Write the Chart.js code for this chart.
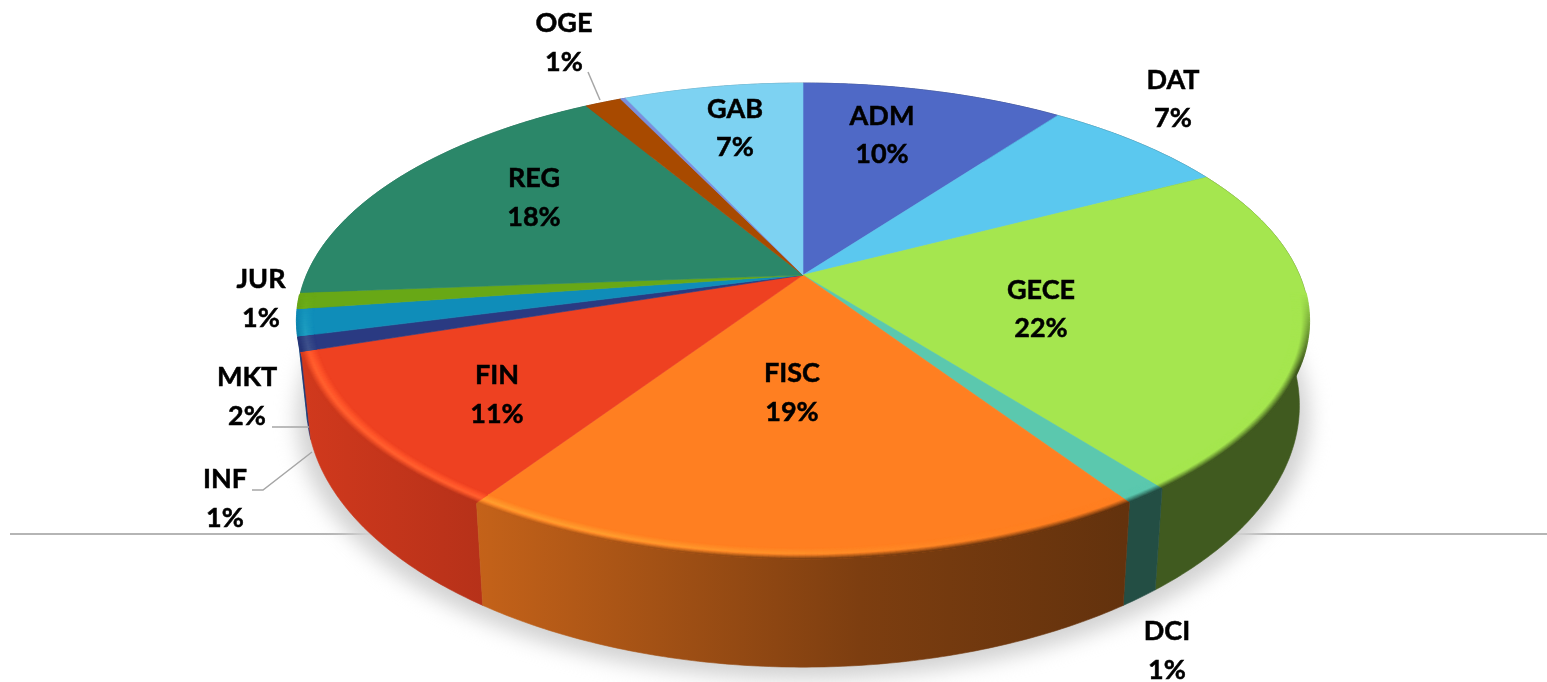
<!DOCTYPE html>
<html>
<head>
<meta charset="utf-8">
<style>
	html, body { margin: 0; padding: 0; background: #fff; overflow: hidden; }
	canvas { display: block; }
</style>
<script src="https://cdn.jsdelivr.net/npm/chart.js@4/dist/chart.umd.min.js"></script>
</head>
<body>
<canvas id="pieChart" width="1547" height="682"></canvas>
<script>
const categories = ["ADM", "DAT", "GECE", "DCI", "FISC", "FIN", "INF", "MKT", "JUR", "REG", "OGE", "", "GAB"];
const shares = [10.1, 7.2, 22.2, 1.2, 18.6, 10.6, 1.0, 1.8, 1.1, 17.7, 1.4, 0.2, 6.9];
const sliceColors = ["#4f69c6", "#5bc8ef", "#a5e64f", "#5bc8ae", "#ff7f21", "#ee4121", "#2a3a82", "#0f8db9", "#68a816", "#2b8769", "#a84a00", "#7b8fde", "#7dd2f2"];

// where each label sits, name line and percent line share an x
const labelSpots = {
	ADM: [882, 116, 154], DAT: [1173, 80, 118], GECE: [1041, 290, 328], DCI: [1167, 631, 670],
	FISC: [792, 373, 412], FIN: [497, 375, 414], INF: [225, 479, 518], MKT: [247, 377, 416],
	JUR: [261, 279, 318], REG: [534, 178, 217], OGE: [564, 23, 62], GAB: [735, 109, 147]
};
const leaderLines = [
	[[588, 72], [600, 100]],
	[[272, 427], [309, 427]],
	[[252, 490], [263, 490], [312, 452]]
];

// perspective of the disc
const view = { cx: 803, cy: 275, a: 496.5, b: 229, p: 0.193, bottomScale: 0.981, bottomY: 355, bottomStretch: 1.1 };

function topPoint(angle, r) {
	const u = Math.cos(angle) * r;
	const v = Math.sin(angle) * r;
	const w = 1 - view.p * v;
	return [view.cx + view.a * u / w, view.cy + view.b * v / w];
}

function bottomPoint(angle) {
	const t = topPoint(angle, 1);
	return [view.cx + (t[0] - view.cx) * view.bottomScale, view.bottomY + (t[1] - view.cy) * view.bottomStretch];
}

function rgb(hex) {
	return [1, 3, 5].map(i => parseInt(hex.substr(i, 2), 16));
}

function css(c) {
	return `rgb(${c.map(x => Math.round(Math.min(255, x))).join(",")})`;
}

function mix(c1, c2, t) {
	return c1.map((x, i) => x + (c2[i] - x) * t);
}

// wall darkness by screen x
const wallStops = [[300, 0.88], [490, 0.76], [860, 0.49], [1125, 0.39], [1310, 0.39]];

function wallShade(x) {
	if (x <= wallStops[0][0]) return wallStops[0][1];
	for (let i = 1; i < wallStops.length; i++) {
		if (x <= wallStops[i][0]) {
			const t = (x - wallStops[i - 1][0]) / (wallStops[i][0] - wallStops[i - 1][0]);
			return wallStops[i - 1][1] + (wallStops[i][1] - wallStops[i - 1][1]) * t;
		}
	}
	return wallStops[wallStops.length - 1][1];
}

function drawWall(ctx, arc, color) {
	const steps = Math.max(4, Math.ceil((arc.endAngle - arc.startAngle) / 0.01));
	const c = rgb(color);
	const grad = ctx.createLinearGradient(300, 0, 1310, 0);
	wallStops.forEach(s => grad.addColorStop((s[0] - 300) / 1010, css(c.map(x => x * s[1]))));
	ctx.beginPath();
	for (let i = 0; i <= steps; i++) {
		const p = topPoint(arc.startAngle + (arc.endAngle - arc.startAngle) * i / steps, 1);
		i ? ctx.lineTo(p[0], p[1]) : ctx.moveTo(p[0], p[1]);
	}
	for (let i = steps; i >= 0; i--) {
		const p = bottomPoint(arc.startAngle + (arc.endAngle - arc.startAngle) * i / steps);
		ctx.lineTo(p[0], p[1]);
	}
	ctx.closePath();
	ctx.fillStyle = grad;
	ctx.fill();
	ctx.strokeStyle = grad;
	ctx.lineWidth = 0.6;
	ctx.stroke();
}

function drawFace(ctx, arc, color) {
	const steps = Math.max(4, Math.ceil((arc.endAngle - arc.startAngle) / 0.01));
	ctx.beginPath();
	ctx.moveTo(view.cx, view.cy);
	for (let i = 0; i <= steps; i++) {
		const p = topPoint(arc.startAngle + (arc.endAngle - arc.startAngle) * i / steps, 1);
		ctx.lineTo(p[0], p[1]);
	}
	ctx.closePath();
	ctx.fillStyle = color;
	ctx.fill();
	ctx.strokeStyle = color;
	ctx.lineWidth = 0.6;
	ctx.stroke();
}

// rounded rim: highlight a little inside the edge, then falls into the wall colour
function drawBevel(ctx, arc, color) {
	const base = rgb(color);
	const bright = base.map((x, i) => x + [28, 32, 14][i]);
	const rings = 16;
	const from = 0.97;
	const stepAngle = 0.01;
	ctx.lineCap = "butt";
	for (let k = 0; k < rings; k++) {
		const t = k / (rings - 1);
		const r = from + (1 - from) * t;
		for (let a = arc.startAngle; a < arc.endAngle; a += stepAngle) {
			const b = Math.min(a + stepAngle * 1.1, arc.endAngle);
			const mid = (a + b) / 2;
			const v = Math.sin(mid);
			const amount = Math.max(0, Math.min(1, (v - 0.08) / 0.3));
			if (amount <= 0) continue;
			const p1 = topPoint(a, r);
			const p2 = topPoint(b, r);
			const left = Math.max(0, Math.min(1, (1050 - p1[0]) / 450));
			const wall = base.map(x => x * wallShade(p1[0]));
			const peak = mix(base, bright, left);
			let col;
			if (t < 0.55) {
				col = mix(base, peak, t / 0.55);
			} else {
				col = mix(peak, wall, (t - 0.55) / 0.45);
			}
			ctx.strokeStyle = css(mix(base, col, amount));
			ctx.lineWidth = 1.3 + 0.9 * Math.abs(Math.cos(mid));
			ctx.beginPath();
			ctx.moveTo(p1[0], p1[1]);
			ctx.lineTo(p2[0], p2[1]);
			ctx.stroke();
		}
	}
}

const tiltedPie = {
	id: "tiltedPie",
	beforeDatasetsDraw(chart) {
		const ctx = chart.ctx;
		const arcs = chart.getDatasetMeta(0).data;
		const colors = chart.data.datasets[0].backgroundColor;

		ctx.save();

		// floor line behind the disc
		ctx.strokeStyle = "#9c9c9c";
		ctx.lineWidth = 1.5;
		ctx.beginPath();
		ctx.moveTo(10, 534);
		ctx.lineTo(1547, 534);
		ctx.stroke();

		// soft shadow under the disc
		ctx.save();
		ctx.filter = "blur(10px)";
		ctx.fillStyle = "#d2d2d2";
		ctx.beginPath();
		for (let i = 0; i <= 200; i++) {
			const p = bottomPoint(i / 200 * Math.PI * 2);
			const x = view.cx + (p[0] - view.cx) * 1.02;
			i ? ctx.lineTo(x, p[1] + 12) : ctx.moveTo(x, p[1] + 12);
		}
		ctx.closePath();
		ctx.fill();
		ctx.restore();

		// walls back to front, then the top faces
		const order = arcs.map((arc, i) => i).sort((m, n) =>
			Math.sin((arcs[m].startAngle + arcs[m].endAngle) / 2) - Math.sin((arcs[n].startAngle + arcs[n].endAngle) / 2));
		order.forEach(i => drawWall(ctx, arcs[i], colors[i]));
		arcs.forEach((arc, i) => drawFace(ctx, arc, colors[i]));
		arcs.forEach((arc, i) => drawBevel(ctx, arc, colors[i]));

		ctx.restore();
		return false;
	},
	afterDraw(chart) {
		const ctx = chart.ctx;
		const values = chart.data.datasets[0].data;
		const total = values.reduce((s, x) => s + x, 0);

		ctx.save();
		ctx.strokeStyle = "#a6a6a6";
		ctx.lineWidth = 1.5;
		leaderLines.forEach(line => {
			ctx.beginPath();
			line.forEach((p, i) => i ? ctx.lineTo(p[0], p[1]) : ctx.moveTo(p[0], p[1]));
			ctx.stroke();
		});

		ctx.fillStyle = "#000";
		ctx.strokeStyle = "#000";
		ctx.lineWidth = 0.5;
		ctx.font = "bold 27px Lato";
		ctx.textAlign = "center";
		ctx.textBaseline = "middle";
		chart.data.labels.forEach((name, i) => {
			if (!name) return;
			const spot = labelSpots[name];
			const pct = `${Math.round(values[i] / total * 100)}%`;
			ctx.fillText(name, spot[0], spot[1]);
			ctx.strokeText(name, spot[0], spot[1]);
			ctx.fillText(pct, spot[0], spot[2]);
			ctx.strokeText(pct, spot[0], spot[2]);
		});
		ctx.restore();
	}
};

window.addEventListener('DOMContentLoaded', (event) => {
	new Chart(document.getElementById("pieChart"), {
		type: 'pie',
		data: {
			labels: categories,
			datasets: [{
				data: shares,
				backgroundColor: sliceColors,
				borderWidth: 0
			}]
		},
		options: {
			responsive: false,
			animation: false,
			plugins: {
				legend: { display: false },
				tooltip: { enabled: false }
			}
		},
		plugins: [tiltedPie]
	});
});
</script>
</body>
</html>
